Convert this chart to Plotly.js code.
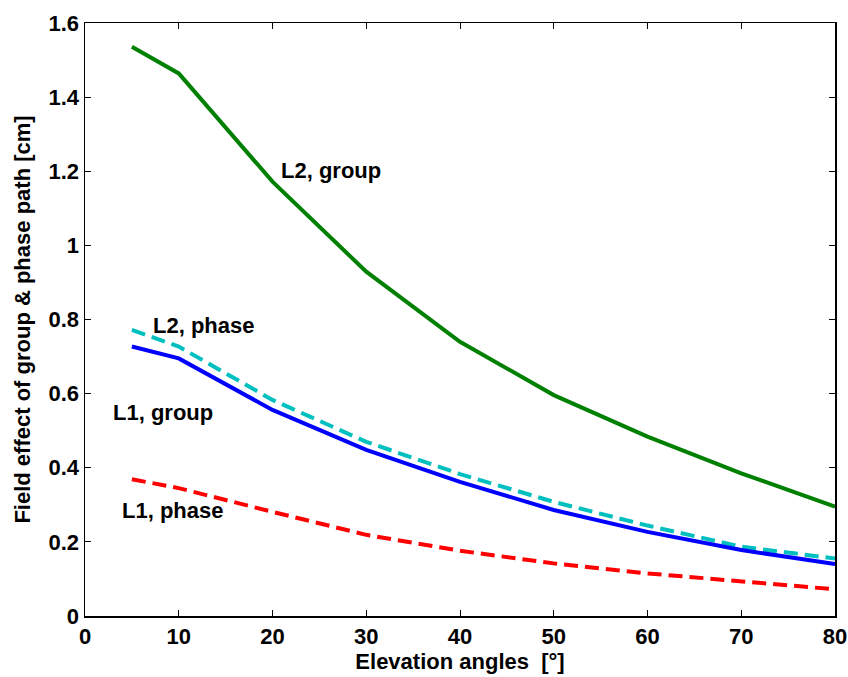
<!DOCTYPE html>
<html>
<head>
<meta charset="utf-8">
<script src="https://cdn.plot.ly/plotly-3.0.1.min.js"></script>
<style>
  html, body { margin: 0; padding: 0; background: #fff; }
  #chart { width: 848px; height: 677px; }
</style>
</head>
<body>
<div id="chart"></div>
<script>
// Elevation angles in degrees
const elevation = [5, 10, 20, 30, 40, 50, 60, 70, 80];

// Field effect of group & phase path [cm]
const l2Group = [1.536, 1.464, 1.172, 0.929, 0.740, 0.596, 0.484, 0.385, 0.295];
const l2Phase = [0.772, 0.727, 0.583, 0.470, 0.383, 0.308, 0.244, 0.187, 0.155];
const l1Group = [0.727, 0.695, 0.556, 0.448, 0.362, 0.286, 0.227, 0.178, 0.140];
const l1Phase = [0.369, 0.345, 0.281, 0.219, 0.176, 0.142, 0.115, 0.093, 0.072];

// Curve labels: text, x, y
const labelText = ["L2, group", "L2, phase", "L1, group", "L1, phase"];
const labelX = [26.2, 12.6, 8.3, 9.3];
const labelY = [1.203, 0.785, 0.548, 0.286];

const FONT = "Liberation Sans, Arial, sans-serif";

const traces = [
  { x: elevation, y: l2Group, mode: "lines", line: { color: "#008000", width: 4 } },
  { x: elevation, y: l2Phase, mode: "lines", line: { color: "#00bfbf", width: 4, dash: "14px,7px" } },
  { x: elevation, y: l1Group, mode: "lines", line: { color: "#0000ff", width: 4 } },
  { x: elevation, y: l1Phase, mode: "lines", line: { color: "#ff0000", width: 4, dash: "14px,7px" } }
];

const annotations = labelText.map((t, i) => ({
  x: labelX[i], y: labelY[i], xref: "x", yref: "y",
  text: "<b>" + t + "</b>", showarrow: false,
  font: { family: FONT, size: 22, color: "#000" }
}));

const axisCommon = {
  showline: true, linecolor: "#000", linewidth: 1.5, mirror: "ticks",
  ticks: "inside", ticklen: 6, tickwidth: 1, tickcolor: "#000",
  showgrid: false, zeroline: false,
  tickfont: { family: FONT, size: 22, color: "#000", weight: "bold" }
};

const layout = {
  width: 848, height: 677,
  margin: { l: 85, r: 13, t: 23, b: 61 },
  paper_bgcolor: "#fff", plot_bgcolor: "#fff",
  showlegend: false,
  xaxis: Object.assign({}, axisCommon, {
    range: [0, 80], tickvals: [0, 10, 20, 30, 40, 50, 60, 70, 80],
    ticklabelstandoff: 0,
    title: { text: "<b>Elevation angles  [°]</b>", standoff: 4,
             font: { family: FONT, size: 22, color: "#000" } }
  }),
  yaxis: Object.assign({}, axisCommon, {
    range: [0, 1.6], tickvals: [0, 0.2, 0.4, 0.6, 0.8, 1, 1.2, 1.4, 1.6],
    ticktext: ["0", "0.2", "0.4", "0.6", "0.8", "1", "1.2", "1.4", "1.6"],
    title: { text: "<b>Field effect of group & phase path [cm]</b>", standoff: 12,
             font: { family: FONT, size: 22, color: "#000" } }
  }),
  annotations: annotations
};

Plotly.newPlot("chart", traces, layout, { displayModeBar: false, staticPlot: true });
</script>
</body>
</html>
